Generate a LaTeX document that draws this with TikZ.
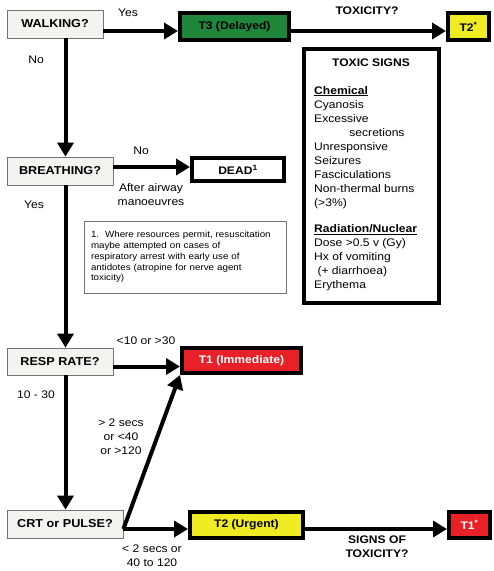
\documentclass[tikz,border=0pt]{standalone}
\usepackage{fontspec}
\setmainfont{Liberation Sans}[FakeStretch=1.1]
\usepackage{xcolor}
\usetikzlibrary{arrows.meta}
\definecolor{askgray}{RGB}{243,243,240}
\definecolor{tgreen}{RGB}{30,135,60}
\definecolor{tyellow}{RGB}{240,236,35}
\definecolor{tred}{RGB}{232,32,40}

\begin{document}
\begin{tikzpicture}[x=1pt,y=-1pt,
  ask node/.style={rectangle,draw=black!55,fill=askgray,line width=0.8pt,inner sep=0pt,font=\bfseries\fontsize{11.5}{13}\selectfont},
  tag node/.style={rectangle,draw=black,line width=4pt,inner sep=0pt,font=\bfseries\fontsize{11}{13}\selectfont},
  lbl/.style={inner sep=0pt,align=center,font=\fontsize{11}{14}\selectfont},
  flow/.style={line width=4pt,-{Triangle[length=14pt,width=16pt]}}]
        \path[fill=white,use as bounding box] (0,0) rectangle (494,571);
        \coordinate (spine) at (65.5,0);
        % questions
        \node[ask node,minimum width=96pt,minimum height=28pt] (walk) at (55,24) {WALKING?};
        \node[ask node,minimum width=106pt,minimum height=28pt] (breath) at (60,171) {BREATHING?};
        \node[ask node,minimum width=106pt,minimum height=27pt] (resp) at (60,361.5) {RESP RATE?};
        \node[ask node,minimum width=116pt,minimum height=28pt] (crt) at (65,524) {CRT or PULSE?};
        % outcomes
        \node[tag node,fill=tgreen,minimum width=109pt,minimum height=27pt] (t3) at (234.5,26.5) {T3 (Delayed)};
        \node[tag node,fill=tyellow,minimum width=41pt,minimum height=27pt] (t2s) at (468.5,26.5) {T2\textsuperscript{*}};
        \node[tag node,fill=white,minimum width=92pt,minimum height=23pt] (dead) at (238,169.5) {DEAD\textsuperscript{1}};
        \node[tag node,fill=tred,text=white,minimum width=119pt,minimum height=25pt] (t1) at (241.5,360.5) {T1 (Immediate)};
        \node[tag node,fill=tyellow,minimum width=113pt,minimum height=26pt] (t2) at (246.5,525) {T2 (Urgent)};
        \node[tag node,fill=tred,text=white,minimum width=41pt,minimum height=26pt] (t1s) at (469.5,525) {T1\textsuperscript{*}};
        % footnote
        \node[draw=black!55,line width=0.6pt,minimum width=202pt,minimum height=72pt,text width=188pt,inner sep=7pt,align=left,font=\fontsize{8.9}{10.8}\selectfont] (note) at (185,257)
          {1.\ \ Where resources permit, resuscitation\\maybe attempted on cases of\\respiratory arrest with early use of\\antidotes (atropine for nerve agent\\toxicity)};
        % toxic signs
        \node[draw=black,line width=4pt,minimum width=135pt,minimum height=254pt] (signs) at (371.5,176) {};
        \node[lbl,font=\bfseries\fontsize{11}{14}\selectfont] (signsttl) at (371,63) {TOXIC SIGNS};
        \node[lbl,align=left,anchor=north west] (signslist) at (314,86)
          {\underline{\textbf{Chemical}}\\Cyanosis\\Excessive\\\hspace*{3.2em}secretions\\Unresponsive\\Seizures\\Fasciculations\\Non-thermal burns\\(>3\%)\\[12pt]
           \underline{\textbf{Radiation/Nuclear}}\\Dose >0.5 v (Gy)\\Hx of vomiting\\\hspace*{0.3em}(+ diarrhoea)\\Erythema};
        % labels
        \node[lbl] (yes1) at (128,13) {Yes};
        \node[lbl] (no1) at (36,60) {No};
        \node[lbl] (no2) at (141,151) {No};
        \node[lbl] (airway) at (151,195) {After airway\\manoeuvres};
        \node[lbl] (yes2) at (34,205) {Yes};
        \node[lbl,font=\bfseries\fontsize{11}{14}\selectfont] (toxq) at (367,11) {TOXICITY?};
        \node[lbl] (rfast) at (146,341) {<10 or >30};
        \node[lbl] (rok) at (36,395) {10 - 30};
        \node[lbl] (pbad) at (121,437) {> 2 secs\\or <40\\or >120};
        \node[lbl] (pok) at (152,556) {< 2 secs or\\40 to 120};
        \node[lbl,font=\bfseries\fontsize{11}{14}\selectfont] (signq) at (377,547) {SIGNS OF\\TOXICITY?};
        % connectors
        \draw[flow] ([yshift=-7pt]walk.east) -- ([yshift=-7pt]walk.east -| t3.west);
        \draw[flow] ([yshift=-4.5pt]t3.east) -- ([yshift=-4.5pt]t3.east -| t2s.west);
        \draw[flow] (walk.south -| spine) -- (breath.north -| spine);
        \draw[flow] ([yshift=4pt]breath.east) -- ([yshift=4pt]breath.east -| dead.west);
        \draw[flow] (breath.south -| spine) -- (resp.north -| spine);
        \draw[flow] ([yshift=-5pt]resp.east) -- ([yshift=-5pt]resp.east -| t1.west);
        \draw[flow] (resp.south -| spine) -- (crt.north -| spine);
        \draw[flow] ([yshift=-5pt]crt.east) -- ([yshift=-5pt]crt.east -| t2.west);
        \draw[flow] ([yshift=-5pt]crt.east) -- (t1.south west);
        \draw[flow] ([yshift=-4pt]t2.east) -- ([yshift=-4pt]t2.east -| t1s.west);
      \end{tikzpicture}
\end{document}
